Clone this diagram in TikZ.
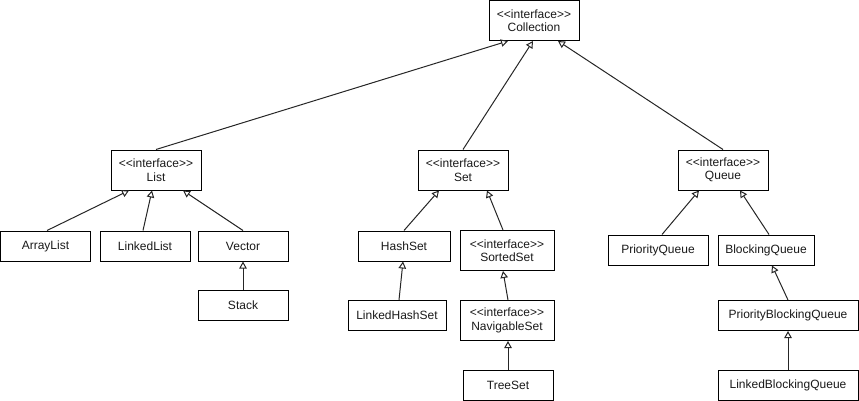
\documentclass[tikz,border=0pt]{standalone}
\usepackage{fontspec}
\setmainfont{Liberation Sans}[Ligatures=TeXOff]
\usetikzlibrary{arrows.meta}

\tikzset{
    cls/.style={draw, line width=1pt, minimum width=90pt, minimum height=30pt,
        inner sep=0pt, align=center, text=black!90, font=\fontsize{12}{13.5}\selectfont},
    iface/.style={cls, minimum height=40pt},
    inherit/.style={-{Triangle[open, length=7pt, width=7.5pt]}, line width=1pt, black!85}
}

\begin{document}
\begin{tikzpicture}[x=1pt, y=-1pt]

    %% Background
    \useasboundingbox (0,0) rectangle (859,401);

    %% Interfaces
    \node[iface] (collection) at (534,20.5) {<<interface>>\\Collection};
    \node[iface] (list) at (156,170) {<<interface>>\\List};
    \node[iface] (set) at (463,170) {<<interface>>\\Set};
    \node[iface] (queue) at (723,170) {<<interface>>\\Queue};

    %% List branch
    \node[cls] (arraylist) at (45.5,246) {ArrayList};
    \node[cls] (linkedlist) at (145,246) {LinkedList};
    \node[cls] (vector) at (243,246) {Vector};
    \node[cls] (stack) at (243,305) {Stack};

    %% Set branch
    \node[cls, minimum width=92pt] (hashset) at (404,246) {HashSet};
    \node[iface, minimum width=94pt] (sortedset) at (507,250.5) {<<interface>>\\SortedSet};
    \node[cls, minimum width=98pt] (linkedhashset) at (397,315.5) {LinkedHashSet};
    \node[iface, minimum width=94pt] (navigableset) at (507,320.5) {<<interface>>\\NavigableSet};
    \node[cls] (treeset) at (508,385) {TreeSet};

    %% Queue branch
    \node[cls, minimum width=100pt] (priorityqueue) at (658,250) {PriorityQueue};
    \node[cls, minimum width=96pt] (blockingqueue) at (766,250) {BlockingQueue};
    \node[cls, minimum width=140pt] (pbqueue) at (788,315.5) {PriorityBlockingQueue};
    \node[cls, minimum width=140pt] (lbqueue) at (788,385) {LinkedBlockingQueue};

    %% Inheritance
    \draw[inherit] (list.north) to ([xshift=-26pt]collection.south);
    \draw[inherit] (set.north) to ([xshift=-1pt]collection.south);
    \draw[inherit] (queue.north) to ([xshift=24pt]collection.south);

    \draw[inherit] ([xshift=1.5pt]arraylist.north) to ([xshift=-27pt]list.south);
    \draw[inherit] ([xshift=-2pt]linkedlist.north) to ([xshift=-4pt]list.south);
    \draw[inherit] (vector.north) to ([xshift=27pt]list.south);
    \draw[inherit] (stack.north) to (vector.south);

    \draw[inherit] (hashset.north) to ([xshift=-24pt]set.south);
    \draw[inherit] ([xshift=-4pt]sortedset.north) to ([xshift=24pt]set.south);
    \draw[inherit] ([xshift=2pt]linkedhashset.north) to ([xshift=-1pt]hashset.south);
    \draw[inherit] ([xshift=1pt]navigableset.north) to ([xshift=-4pt]sortedset.south);
    \draw[inherit] (treeset.north) to (navigableset.south -| treeset.north);

    \draw[inherit] ([xshift=4pt]priorityqueue.north) to ([xshift=-24pt]queue.south);
    \draw[inherit] ([xshift=3pt]blockingqueue.north) to ([xshift=17pt]queue.south);
    \draw[inherit] (pbqueue.north) to ([xshift=6pt]blockingqueue.south);
    \draw[inherit] (lbqueue.north) to (pbqueue.south);

\end{tikzpicture}
\end{document}
